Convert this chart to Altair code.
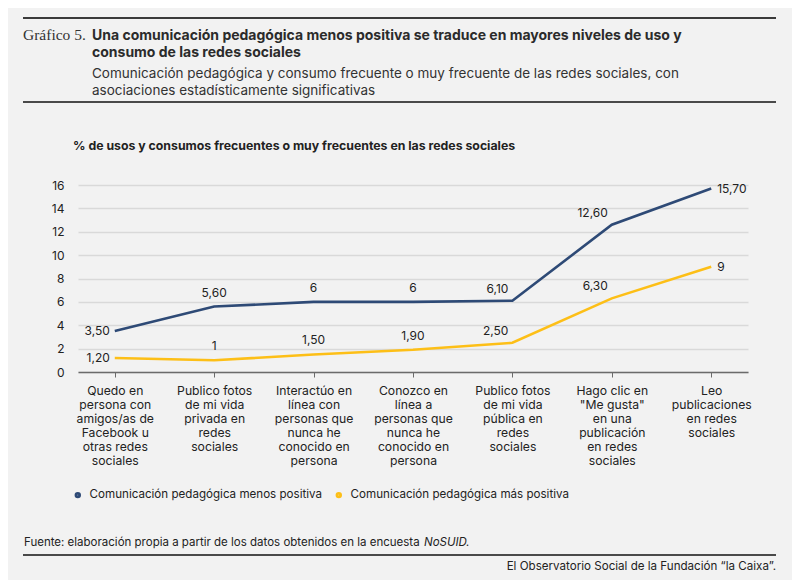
import pandas as pd
import altair as alt

CATEGORIES = [
    "Quedo en\npersona con\namigos/as de\nFacebook u\notras redes\nsociales",
    "Publico fotos\nde mi vida\nprivada en\nredes\nsociales",
    "Interactúo en\nlínea con\npersonas que\nnunca he\nconocido en\npersona",
    "Conozco en\nlínea a\npersonas  que\nnunca he\nconocido en\npersona",
    "Publico fotos\nde mi vida\npública en\nredes\nsociales",
    "Hago clic en\n\"Me gusta\"\nen una\npublicación\nen redes\nsociales",
    "Leo\npublicaciones\nen redes\nsociales",
]
SERIES = ["Comunicación pedagógica menos positiva", "Comunicación pedagógica más positiva"]
MENOS_POSITIVA = [3.5, 5.6, 6.0, 6.0, 6.1, 12.6, 15.7]
MAS_POSITIVA = [1.2, 1.0, 1.5, 1.9, 2.5, 6.3, 9.0]
COLORS = ["#2e4a76", "#fdbf17"]
Y_TICKS = [0, 2, 4, 6, 8, 10, 12, 14, 16]

TITLE_LINES = [
    "Una comunicación pedagógica menos positiva se traduce en mayores niveles de uso y",
    "consumo de las redes sociales",
]
SUBTITLE_LINES = [
    "Comunicación pedagógica y consumo frecuente o muy frecuente de las redes sociales, con",
    "asociaciones estadísticamente significativas",
]
Y_TITLE = "% de usos y consumos frecuentes o muy frecuentes en las redes sociales"
SOURCE = "Fuente: elaboración propia a partir de los datos obtenidos en la encuesta"
SOURCE_ITALIC = "NoSUID."
FOOTER = "El Observatorio Social de la Fundación “la Caixa”."

FONT = "Inter"
TEXT_COLOR = "#222222"
BG = "#f2f2f2"

W, H = 670, 187


def fmt(v):
    if v == int(v):
        return str(int(v))
    return f"{v:.2f}".replace(".", ",")


rows = []
for name, values in zip(SERIES, [MENOS_POSITIVA, MAS_POSITIVA]):
    for i, (cat, v) in enumerate(zip(CATEGORIES, values)):
        rows.append({"cat": cat, "serie": name, "valor": v, "label": fmt(v), "idx": i})
df = pd.DataFrame(rows)

x_enc = alt.X(
    "cat:N",
    sort=CATEGORIES,
    scale=alt.Scale(type="point", padding=0.37),
    axis=alt.Axis(
        title=None,
        labelAngle=0,
        labelExpr="split(datum.label, '\\n')",
        labelFont=FONT,
        labelFontSize=12.2,
        labelColor=TEXT_COLOR,
        labelLineHeight=14,
        labelBaseline="top",
        labelPadding=7,
        labelLimit=200,
        domainColor="#6b6b6b",
        domainWidth=1.5,
        tickColor="#6b6b6b",
        tickSize=5,
        grid=False,
    ),
)
y_enc = alt.Y(
    "valor:Q",
    scale=alt.Scale(domain=[0, 16]),
    axis=alt.Axis(
        title=None,
        values=Y_TICKS,
        labelFont=FONT,
        labelFontSize=12,
        labelColor=TEXT_COLOR,
        labelPadding=14,
        domain=False,
        ticks=False,
        gridColor="#d9d9d9",
        gridWidth=1.5,
    ),
)
color_enc = alt.Color(
    "serie:N",
    scale=alt.Scale(domain=SERIES, range=COLORS),
    legend=alt.Legend(
        title=None,
        orient="none",
        legendX=-6,
        legendY=304,
        direction="horizontal",
        symbolType="circle",
        symbolSize=8,
        symbolStrokeWidth=3.6,
        labelFont=FONT,
        labelFontSize=11.6,
        labelColor=TEXT_COLOR,
        columnPadding=7,
        labelOffset=6,
        labelLimit=400,
    ),
)

base = alt.Chart(df).encode(x=x_enc, y=y_enc)

lines = base.mark_line(strokeWidth=2.6).encode(color=color_enc)

label_style = dict(font=FONT, fontSize=12, color=TEXT_COLOR)
first_lbl = base.transform_filter("datum.idx == 0").mark_text(
    align="right", baseline="middle", dx=-5, **label_style
).encode(text="label:N")
mid_lbl = base.transform_filter("datum.idx >= 1 && datum.idx <= 3").mark_text(
    align="center", baseline="bottom", dy=-7, **label_style
).encode(text="label:N")
rise_lbl = base.transform_filter("datum.idx == 4 || datum.idx == 5").mark_text(
    align="right", baseline="bottom", dx=-4, dy=-5, **label_style
).encode(text="label:N")
last_lbl = base.transform_filter("datum.idx == 6").mark_text(
    align="left", baseline="middle", dx=6, **label_style
).encode(text="label:N")


def note(text, x, y, **kw):
    style = dict(font=FONT, fontSize=12, color=TEXT_COLOR, align="left", baseline="alphabetic")
    style.update(kw)
    return (
        alt.Chart(pd.DataFrame({"t": [text]}))
        .mark_text(**style)
        .encode(text="t:N", x=alt.value(x), y=alt.value(y))
    )


def hrule(y, color="#3a3a3a", width=2):
    return (
        alt.Chart(pd.DataFrame({"t": [0]}))
        .mark_rule(color=color, strokeWidth=width)
        .encode(x=alt.value(-55), x2=alt.value(698), y=alt.value(y))
    )


header = [
    hrule(-167),
    note("Gráfico 5.", -55, -145, font="Liberation Serif", fontSize=15.5, color="#333333"),
    note(TITLE_LINES[0], 14, -145, fontSize=14, fontWeight="bold", color="#2b2b2b"),
    note(TITLE_LINES[1], 14, -128, fontSize=14, fontWeight="bold", color="#2b2b2b"),
    note(SUBTITLE_LINES[0], 14, -107, fontSize=13.5, color="#333333"),
    note(SUBTITLE_LINES[1], 14, -90, fontSize=13.5, color="#333333"),
    hrule(-83, color="#4a4a4a"),
    note(Y_TITLE, -5, -35, fontSize=12.3, fontWeight="bold"),
]
footer = [
    note(SOURCE, -54, 361, fontSize=11.5),
    note(SOURCE_ITALIC, 346, 361, fontSize=11.5, fontStyle="italic"),
    hrule(370, color="#4a4a4a"),
    note(FOOTER, 698, 385, fontSize=11.6, align="right"),
]

chart = (
    alt.layer(lines, first_lbl, mid_lbl, rise_lbl, last_lbl, *header, *footer)
    .properties(
        width=W,
        height=H,
        autosize="none",
        padding={"left": 70, "top": 177, "right": 44, "bottom": 208},
        background=BG,
    )
    .configure_view(stroke=None)
)

chart.save("out.html", embed_options={"renderer": "svg", "actions": False})
